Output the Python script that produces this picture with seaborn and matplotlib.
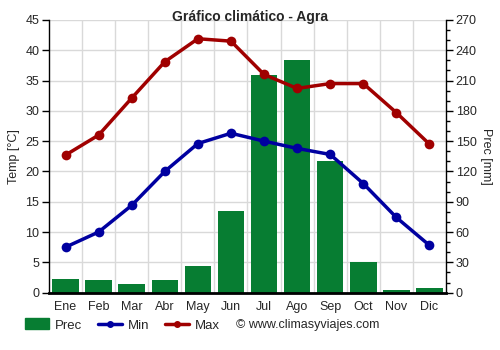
import numpy as np
import pandas as pd
import matplotlib
matplotlib.use("Agg")
import matplotlib.pyplot as plt
import seaborn as sns
from matplotlib.lines import Line2D
from matplotlib.patches import Patch

months = ["Ene", "Feb", "Mar", "Abr", "May", "Jun", "Jul", "Ago", "Sep", "Oct", "Nov", "Dic"]
t_min = [7.5, 10.0, 14.4, 20.0, 24.6, 26.3, 25.0, 23.8, 22.8, 18.0, 12.4, 7.8]
t_max = [22.7, 26.0, 32.1, 38.1, 41.9, 41.5, 36.0, 33.7, 34.5, 34.5, 29.7, 24.5]
prec = [13, 12, 9, 12, 26, 81, 215, 230, 130, 30, 3, 4.5]

sns.set_style("white")
plt.rcParams["font.family"] = ["Liberation Sans", "DejaVu Sans"]

GREEN = "#077d32"
BLUE = "#0000a0"
RED = "#a00000"

df = pd.DataFrame({"mes": months, "pos": np.arange(len(months)), "min": t_min, "max": t_max, "prec": prec})

fig = plt.figure(figsize=(5, 3.5), dpi=100)
ax = fig.add_axes([0.098, 0.164, 0.794, 0.779])
ax2 = ax.twinx()

# bars on secondary axis (behind)
sns.barplot(data=df, x="pos", y="prec", ax=ax2, color=GREEN, width=0.8, saturation=1, native_scale=True,
            linewidth=0, edgecolor="none", zorder=2)
ax2.set_ylim(0, 270)
ax2.set_yticks(np.arange(0, 271, 30))
ax2.set_yticks(np.arange(0, 271, 10), minor=True)
ax2.grid(axis="y", color="#d9d9d9", linewidth=1, zorder=0)
for b in np.arange(0.5, 11.5, 1):
    ax2.axvline(b, color="#d9d9d9", linewidth=1, zorder=0)
ax2.set_ylabel("Prec [mm]", rotation=270, labelpad=11, fontsize=9)
ax2.tick_params(axis="y", which="major", length=5, width=1, labelsize=9, direction="out", color="black", pad=2)
ax2.tick_params(axis="y", which="minor", length=3, width=1, color="black")

# lines on primary axis
sns.lineplot(data=df, x="pos", y="min", ax=ax, color=BLUE, linewidth=2.5, marker="o", markersize=7,
             markeredgewidth=0, zorder=5)
sns.lineplot(data=df, x="pos", y="max", ax=ax, color=RED, linewidth=2.5, marker="o", markersize=7,
             markeredgewidth=0, zorder=5)
ax.set_zorder(ax2.get_zorder() + 1)
ax.patch.set_visible(False)
ax.set_ylim(0, 45)
ax.set_yticks(np.arange(0, 46, 5))
ax.set_xlim(-0.5, 11.5)
ax.set_xticks(np.arange(12))
ax.set_xticklabels(months)
ax.set_xticks(np.arange(-0.5, 12, 1), minor=True)
ax.tick_params(axis="x", which="major", length=0, labelsize=9, pad=6)
ax.tick_params(axis="x", which="minor", length=5, width=1, color="black")
ax.tick_params(axis="y", which="major", length=5, width=1, labelsize=9, color="black", direction="out", pad=2)
ax.set_ylabel("Temp [°C]", fontsize=9, labelpad=4)
ax.set_xlabel("")
ax2.set_xlabel("")

for a in (ax, ax2):
    a.spines["top"].set_visible(False)
    for s in ("left", "right"):
        a.spines[s].set_color("black")
        a.spines[s].set_linewidth(1)
ax.spines["bottom"].set_color("black")
ax.spines["bottom"].set_linewidth(2)
ax2.spines["bottom"].set_visible(False)
ax.spines["right"].set_visible(False)
ax2.spines["left"].set_visible(False)

fig.text(0.5, 1 - 17 / 350, "Gráfico climático - Agra", fontsize=10, fontweight="bold", ha="center", va="center")

handles = [Patch(facecolor=GREEN, edgecolor=GREEN),
           Line2D([0], [0], color=BLUE, linewidth=2.5, marker="o", markersize=4),
           Line2D([0], [0], color=RED, linewidth=2.5, marker="o", markersize=4)]
fig.legend(handles, ["Prec", "Min", "Max"], loc="center left", bbox_to_anchor=(25 / 500, 1 - 325 / 350), ncol=3,
           frameon=False, fontsize=9.5, handlelength=1.8, handleheight=0.9, columnspacing=1.2,
           handletextpad=0.45, borderpad=0, borderaxespad=0)
fig.text(236 / 500, 1 - 325 / 350, "© www.climasyviajes.com", fontsize=9, va="center", ha="left")

fig.savefig("out.png", dpi=100)
